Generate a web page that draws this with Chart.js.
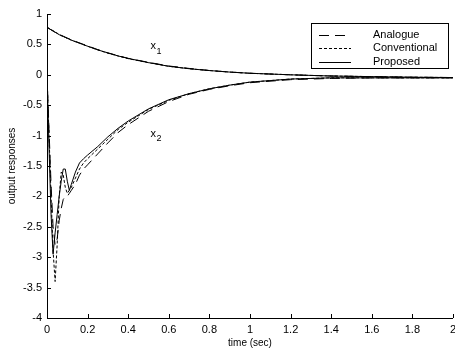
<!DOCTYPE html>
<html>
<head>
<meta charset="utf-8">
<script src="https://cdn.jsdelivr.net/npm/chart.js@4/dist/chart.umd.min.js"></script>
<style>
html,body{margin:0;padding:0;background:#fff;}
#wrap{width:455px;height:351px;}
</style>
</head>
<body>
<div id="wrap"><canvas id="c" width="455" height="351"></canvas></div>
<script>
// ---- data ----
const times = [0, 0.01, 0.02, 0.03, 0.04, 0.05, 0.06, 0.07, 0.08, 0.09, 0.10, 0.11, 0.12, 0.14, 0.16, 0.18, 0.20, 0.25, 0.30, 0.35, 0.40, 0.50, 0.60, 0.70, 0.80, 0.90, 1.00, 1.20, 1.40, 1.60, 1.80, 2.00];

const x1Analogue     = [0.78, 0.76, 0.74, 0.72, 0.70, 0.68, 0.665, 0.65, 0.635, 0.62, 0.605, 0.59, 0.575, 0.55, 0.525, 0.50, 0.475, 0.415, 0.36, 0.315, 0.27, 0.205, 0.145, 0.105, 0.07, 0.045, 0.025, 0.0, -0.02, -0.03, -0.04, -0.045];
const x1Conventional = [0.78, 0.765, 0.745, 0.725, 0.705, 0.685, 0.665, 0.645, 0.63, 0.615, 0.60, 0.585, 0.57, 0.545, 0.52, 0.495, 0.47, 0.41, 0.355, 0.31, 0.265, 0.20, 0.14, 0.10, 0.07, 0.045, 0.025, 0.0, -0.02, -0.03, -0.04, -0.045];
const x1Proposed     = [0.78, 0.76, 0.74, 0.72, 0.70, 0.68, 0.66, 0.645, 0.63, 0.615, 0.60, 0.585, 0.57, 0.545, 0.52, 0.495, 0.47, 0.41, 0.36, 0.31, 0.27, 0.20, 0.14, 0.10, 0.07, 0.045, 0.025, 0.0, -0.02, -0.03, -0.04, -0.045];

const x2Analogue     = [0, -0.9, -1.8, -2.5, -2.8, -2.7, -2.4, -2.2, -2.05, -2.0, -2.0, -1.95, -1.9, -1.8, -1.65, -1.55, -1.48, -1.3, -1.12, -0.95, -0.82, -0.6, -0.44, -0.32, -0.24, -0.18, -0.13, -0.08, -0.06, -0.05, -0.05, -0.05];
const x2Conventional = [0, -1.0, -2.0, -2.9, -3.4, -2.8, -2.0, -1.6, -1.65, -1.85, -1.95, -1.9, -1.85, -1.7, -1.55, -1.45, -1.38, -1.22, -1.06, -0.9, -0.78, -0.57, -0.42, -0.31, -0.23, -0.17, -0.12, -0.07, -0.05, -0.05, -0.05, -0.05];
const x2Proposed     = [0, -1.2, -2.3, -2.95, -2.6, -2.3, -2.0, -1.75, -1.55, -1.55, -1.75, -1.9, -1.8, -1.6, -1.45, -1.38, -1.32, -1.18, -1.02, -0.88, -0.76, -0.56, -0.41, -0.31, -0.23, -0.17, -0.12, -0.07, -0.05, -0.05, -0.05, -0.05];

const seriesNames = ['Analogue', 'Conventional', 'Proposed'];
const xTicks = [0, 0.2, 0.4, 0.6, 0.8, 1, 1.2, 1.4, 1.6, 1.8, 2];
const xTickLabels = ['0', '0.2', '0.4', '0.6', '0.8', '1', '1.2', '1.4', '1.6', '1.8', '2'];
const yTicks = [1, 0.5, 0, -0.5, -1, -1.5, -2, -2.5, -3, -3.5, -4];
const yTickLabels = ['1', '0.5', '0', '-0.5', '-1', '-1.5', '-2', '-2.5', '-3', '-3.5', '-4'];
const curveLabels = [{text: 'x', sub: '1', t: 0.51, v: 0.47}, {text: 'x', sub: '2', t: 0.51, v: -0.97}];

// ---- styles ----
const FONT = '"Liberation Sans", Arial, sans-serif';
const dashes = [[10, 6], [3, 2], []];
const pts = arr => arr.map((v, i) => ({x: times[i], y: v}));
const styleFor = i => ({borderColor: '#000', borderWidth: 1, borderDash: dashes[i], pointRadius: 0, tension: 0, fill: false});

const datasets = [
  Object.assign({label: seriesNames[0], data: pts(x1Analogue)}, styleFor(0)),
  Object.assign({label: seriesNames[1], data: pts(x1Conventional)}, styleFor(1)),
  Object.assign({label: seriesNames[2], data: pts(x1Proposed)}, styleFor(2)),
  Object.assign({label: seriesNames[0], data: pts(x2Analogue)}, styleFor(0)),
  Object.assign({label: seriesNames[1], data: pts(x2Conventional)}, styleFor(1)),
  Object.assign({label: seriesNames[2], data: pts(x2Proposed)}, styleFor(2)),
];

const decor = {
  id: 'decor',
  afterDraw(chart) {
    const ctx = chart.ctx, a = chart.chartArea;
    const xs = chart.scales.x, ys = chart.scales.y;
    ctx.save();
    ctx.strokeStyle = '#000';
    ctx.lineWidth = 1;
    ctx.setLineDash([]);
    // axis lines
    ctx.beginPath();
    ctx.moveTo(Math.round(a.left) + 0.5, a.top);
    ctx.lineTo(Math.round(a.left) + 0.5, Math.round(a.bottom) + 0.5);
    ctx.lineTo(a.right, Math.round(a.bottom) + 0.5);
    ctx.stroke();
    // inward ticks
    ctx.beginPath();
    xTicks.forEach(t => {
      const px = Math.round(xs.getPixelForValue(t)) + 0.5;
      ctx.moveTo(px, a.bottom); ctx.lineTo(px, a.bottom - 4);
    });
    yTicks.forEach(t => {
      const py = Math.round(ys.getPixelForValue(t)) + 0.5;
      ctx.moveTo(a.left, py); ctx.lineTo(a.left + 4, py);
    });
    ctx.stroke();
    // curve labels
    ctx.fillStyle = '#000';
    ctx.textBaseline = 'middle';
    ctx.textAlign = 'left';
    curveLabels.forEach(l => {
      const px = xs.getPixelForValue(l.t), py = ys.getPixelForValue(l.v);
      ctx.font = '11px ' + FONT;
      ctx.fillText(l.text, px, py);
      ctx.font = '9px ' + FONT;
      ctx.fillText(l.sub, px + 6, py + 5);
    });
    // legend box
    const bx = 311.5, by = 23.5, bw = 137, bh = 45;
    ctx.fillStyle = '#fff';
    ctx.fillRect(bx, by, bw, bh);
    ctx.strokeRect(bx, by, bw, bh);
    ctx.font = '11px ' + FONT;
    ctx.fillStyle = '#000';
    seriesNames.forEach((name, i) => {
      const y = 35 + i * 13.3;
      ctx.beginPath();
      ctx.setLineDash(dashes[i]);
      ctx.moveTo(319, Math.round(y) + 0.5);
      ctx.lineTo(351, Math.round(y) + 0.5);
      ctx.stroke();
      ctx.setLineDash([]);
      ctx.fillText(name, 373, y);
    });
    ctx.restore();
  }
};

new Chart(document.getElementById('c'), {
  type: 'line',
  data: {datasets},
  options: {
    responsive: false,
    animation: false,
    devicePixelRatio: 1,
    layout: {padding: {top: 14, right: 2, left: 0, bottom: 0}},
    plugins: {legend: {display: false}, tooltip: {enabled: false}},
    scales: {
      x: {
        type: 'linear', min: 0, max: 2,
        border: {display: false},
        grid: {display: false, drawTicks: false},
        afterBuildTicks: s => { s.ticks = xTicks.map(v => ({value: v})); },
        afterFit: s => { s.height = 33; s.paddingRight = 0; s.paddingLeft = 0; },
        ticks: {
          padding: 5, color: '#000', maxRotation: 0, autoSkip: false,
          font: {family: FONT, size: 11},
          callback: (v) => { const i = xTicks.findIndex(t => Math.abs(t - v) < 1e-9); return i >= 0 ? xTickLabels[i] : ''; }
        },
        title: {display: true, text: 'time (sec)', color: '#000', font: {family: FONT, size: 10}, padding: {top: 0, bottom: 2}}
      },
      y: {
        type: 'linear', min: -4, max: 1,
        border: {display: false},
        grid: {display: false, drawTicks: false},
        afterBuildTicks: s => { s.ticks = yTicks.map(v => ({value: v})); },
        afterFit: s => { s.width = 47; s.paddingTop = 0; s.paddingBottom = 0; },
        ticks: {
          padding: 5, color: '#000', autoSkip: false,
          font: {family: FONT, size: 11},
          callback: (v) => { const i = yTicks.findIndex(t => Math.abs(t - v) < 1e-9); return i >= 0 ? yTickLabels[i] : ''; }
        },
        title: {display: true, text: 'output responses', color: '#000', font: {family: FONT, size: 10}, padding: {top: 6, bottom: 0}}
      }
    }
  },
  plugins: [decor]
});
</script>
</body>
</html>
